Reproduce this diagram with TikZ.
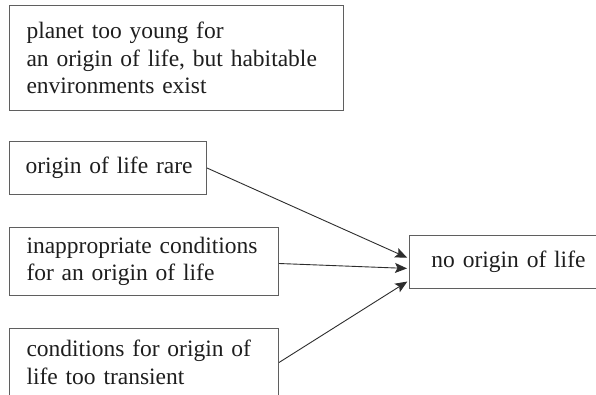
\documentclass[tikz,border=0pt]{standalone}
\usepackage{fontspec}
\setmainfont{LiberationSerif}[Extension=.ttf, UprightFont=*-Regular, BoldFont=*-Bold, ItalicFont=*-Italic, BoldItalicFont=*-BoldItalic]
\usetikzlibrary{arrows.meta}
\definecolor{boxline}{RGB}{95,95,95}
\definecolor{arrowline}{RGB}{45,45,45}
\definecolor{txt}{RGB}{30,30,30}
\begin{document}
\begin{tikzpicture}[x=1pt,y=-1pt,
  box/.style={draw=boxline, line width=1pt, anchor=north west, inner xsep=17pt, inner ysep=0pt,
    align=left, text=txt, font=\rmfamily\fontsize{23.5}{27.5}\selectfont},
  arr/.style={draw=arrowline, line width=0.9pt, -{Stealth[length=12pt,width=10pt,inset=2.5pt]}, shorten >=2pt}]
\clip (0,0) rectangle (596,395);
\fill[white] (0,0) rectangle (596,395);
\node[box, text width=300pt, minimum height=105pt] (young) at (9,5)
  {planet too young for\\an origin of life, but habitable\\environments exist};
\node[box, inner xsep=16pt, text width=165pt, minimum height=53pt] (rare) at (9,141)
  {\mbox{origin of life rare}};
\node[box, text width=235pt, minimum height=68pt] (inapp) at (9,227)
  {\mbox{inappropriate conditions}\\for an origin of life};
\node[box, text width=235pt, minimum height=68pt] (trans) at (9,328)
  {conditions for origin of\\life too transient};
\node[box, align=center, inner xsep=0pt, text width=198pt, minimum height=53pt] (none) at (409,235)
  {no origin of life};
\draw[arr] (rare.east) -- ([yshift=3.5pt]none.west);
\draw[arr] ([yshift=-2pt]inapp.east) -- ([yshift=-6.5pt]none.west);
\draw[arr] (trans.east) -- ([yshift=-18.5pt]none.west);
\end{tikzpicture}
\end{document}
